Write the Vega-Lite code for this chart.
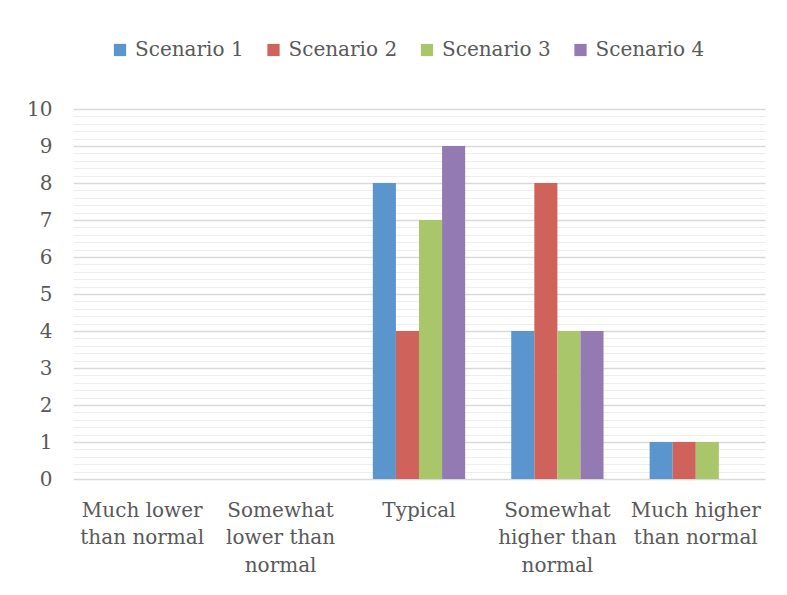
{
  "$schema": "https://vega.github.io/schema/vega-lite/v6.json",
  "autosize": "none",
  "width": 692,
  "height": 370,
  "padding": {"left": 73, "top": 109, "right": 22, "bottom": 116},
  "background": "white",
  "config": {
    "view": {"stroke": null},
    "font": "DejaVu Serif",
    "axis": {"labelFont": "DejaVu Serif", "labelColor": "#595959", "labelFontSize": 20},
    "legend": {"labelFont": "DejaVu Serif", "labelColor": "#595959", "labelFontSize": 20}
  },
  "data": {
    "values": [
      {"level": "Much lower than normal", "scenario": "Scenario 1", "count": 0},
      {"level": "Much lower than normal", "scenario": "Scenario 2", "count": 0},
      {"level": "Much lower than normal", "scenario": "Scenario 3", "count": 0},
      {"level": "Much lower than normal", "scenario": "Scenario 4", "count": 0},
      {"level": "Somewhat lower than normal", "scenario": "Scenario 1", "count": 0},
      {"level": "Somewhat lower than normal", "scenario": "Scenario 2", "count": 0},
      {"level": "Somewhat lower than normal", "scenario": "Scenario 3", "count": 0},
      {"level": "Somewhat lower than normal", "scenario": "Scenario 4", "count": 0},
      {"level": "Typical", "scenario": "Scenario 1", "count": 8},
      {"level": "Typical", "scenario": "Scenario 2", "count": 4},
      {"level": "Typical", "scenario": "Scenario 3", "count": 7},
      {"level": "Typical", "scenario": "Scenario 4", "count": 9},
      {"level": "Somewhat higher than normal", "scenario": "Scenario 1", "count": 4},
      {"level": "Somewhat higher than normal", "scenario": "Scenario 2", "count": 8},
      {"level": "Somewhat higher than normal", "scenario": "Scenario 3", "count": 4},
      {"level": "Somewhat higher than normal", "scenario": "Scenario 4", "count": 4},
      {"level": "Much higher than normal", "scenario": "Scenario 1", "count": 1},
      {"level": "Much higher than normal", "scenario": "Scenario 2", "count": 1},
      {"level": "Much higher than normal", "scenario": "Scenario 3", "count": 1},
      {"level": "Much higher than normal", "scenario": "Scenario 4", "count": 0}
    ]
  },
  "mark": {"type": "bar"},
  "encoding": {
    "x": {
      "field": "level",
      "type": "nominal",
      "sort": ["Much lower than normal", "Somewhat lower than normal", "Typical", "Somewhat higher than normal", "Much higher than normal"],
      "scale": {"paddingInner": 0.333, "paddingOuter": 0.1667},
      "axis": {
        "title": null,
        "labelAngle": 0,
        "domain": false,
        "ticks": false,
        "labelPadding": 21,
        "labelBaseline": "top",
        "labelLineHeight": 27.5,
        "labelLimit": 200,
        "labelExpr": "datum.label == 'Much lower than normal' ? ['Much lower', 'than normal'] : datum.label == 'Somewhat lower than normal' ? ['Somewhat', 'lower than', 'normal'] : datum.label == 'Somewhat higher than normal' ? ['Somewhat', 'higher than', 'normal'] : datum.label == 'Much higher than normal' ? ['Much higher', 'than normal'] : datum.label"
      }
    },
    "xOffset": {
      "field": "scenario",
      "type": "nominal",
      "scale": {"paddingInner": 0, "paddingOuter": 0}
    },
    "y": {
      "field": "count",
      "type": "quantitative",
      "scale": {"domain": [0, 10], "nice": false},
      "axis": {
        "title": null,
        "domain": false,
        "ticks": false,
        "labelPadding": 21,
        "labelOverlap": false,
        "values": [0, 0.2, 0.4, 0.6, 0.8, 1, 1.2, 1.4, 1.6, 1.8, 2, 2.2, 2.4, 2.6, 2.8, 3, 3.2, 3.4, 3.6, 3.8, 4, 4.2, 4.4, 4.6, 4.8, 5, 5.2, 5.4, 5.6, 5.8, 6, 6.2, 6.4, 6.6, 6.8, 7, 7.2, 7.4, 7.6, 7.8, 8, 8.2, 8.4, 8.6, 8.8, 9, 9.2, 9.4, 9.6, 9.8, 10],
        "labelExpr": "datum.value % 1 === 0 ? format(datum.value, 'd') : ''",
        "gridColor": {"condition": {"test": "datum.value % 1 === 0", "value": "#d9d9d9"}, "value": "#eeeeee"},
        "gridWidth": {"condition": {"test": "datum.value % 1 === 0", "value": 1.5}, "value": 1.2}
      }
    },
    "color": {
      "field": "scenario",
      "type": "nominal",
      "scale": {
        "domain": ["Scenario 1", "Scenario 2", "Scenario 3", "Scenario 4"],
        "range": ["#5b95ce", "#cf625a", "#aac66a", "#937ab3"]
      },
      "legend": {
        "title": null,
        "orient": "none",
        "direction": "horizontal",
        "legendX": 37,
        "legendY": -69,
        "symbolType": "square",
        "symbolSize": 150,
        "symbolStrokeWidth": 0,
        "labelOffset": 5,
        "columnPadding": 19.5,
        "padding": 0
      }
    }
  }
}
